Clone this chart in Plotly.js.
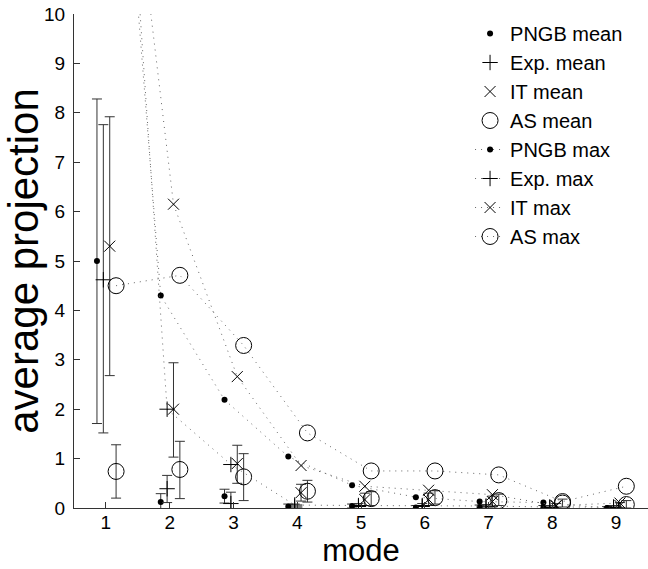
<!DOCTYPE html>
<html>
<head>
<meta charset="utf-8">
<script src="https://cdn.plot.ly/plotly-3.0.1.min.js"></script>
<style>
html,body{margin:0;padding:0;background:#fff;}
#chart{width:648px;height:569px;}
</style>
</head>
<body>
<div id="chart"></div>
<script>
// ---- data ----
const modes = [1, 2, 3, 4, 5, 6, 7, 8, 9];
const tickLabels = ['1','2','3','4','5','6','7','8','9'];

// horizontal offsets of each method around the mode
const offPNGB = -0.14, offExp = -0.04, offIT = 0.06, offAS = 0.16;

// mean values and error-bar bounds
const pngbMean = [5.00, 0.12, 0.24, 0.03, 0.04, 0.01, 0.02, 0.01, 0.00];
const pngbLow  = [1.71, -0.05, 0.10, -0.02, 0.00, -0.03, -0.02, -0.03, -0.03];
const pngbHigh = [8.28, 0.29, 0.38, 0.08, 0.08, 0.05, 0.06, 0.05, 0.03];

const expMean = [4.62, 0.39, 0.09, 0.02, 0.03, 0.03, 0.02, 0.01, 0.01];
const expLow  = [1.52, 0.11, -0.14, -0.04, -0.03, -0.03, -0.03, -0.03, -0.03];
const expHigh = [7.76, 0.66, 0.32, 0.08, 0.09, 0.09, 0.07, 0.05, 0.05];

const itMean = [5.30, 2.00, 0.90, 0.31, 0.17, 0.17, 0.13, 0.04, 0.05];
const itLow  = [2.68, 1.03, 0.50, 0.14, 0.05, 0.05, 0.03, 0.00, 0.00];
const itHigh = [7.92, 2.94, 1.27, 0.48, 0.30, 0.30, 0.24, 0.09, 0.11];

const asMean = [0.74, 0.78, 0.63, 0.34, 0.19, 0.21, 0.15, 0.10, 0.07];
const asLow  = [0.20, 0.19, 0.15, 0.12, 0.05, 0.08, 0.05, 0.02, 0.00];
const asHigh = [1.28, 1.35, 1.10, 0.56, 0.33, 0.35, 0.28, 0.18, 0.15];

// max values (dotted lines)
const pngbMax = [20.6, 4.30, 2.19, 1.04, 0.46, 0.22, 0.13, 0.11, 0.00];
const expMax  = [20.9, 2.00, 0.88, 0.06, 0.05, 0.05, 0.04, 0.02, 0.02];
const itMax   = [17.0, 6.15, 2.66, 0.86, 0.44, 0.36, 0.27, 0.05, 0.10];
const asMax   = [4.50, 4.71, 3.29, 1.52, 0.75, 0.75, 0.67, 0.13, 0.44];

// ---- build traces ----
const shift = (o) => modes.map(m => m + o);
const errUp = (hi, mean) => hi.map((v, i) => v - mean[i]);
const errDn = (lo, mean) => lo.map((v, i) => mean[i] - v);
const errStyle = (hi, lo, mean) => ({
  type: 'data', symmetric: false,
  array: errUp(hi, mean), arrayminus: errDn(lo, mean),
  width: 5, thickness: 1, color: '#333'
});

const markerDot = {symbol: 'circle', size: 6, color: '#000'};
const markerPlus = {symbol: 'cross-thin-open', size: 11, color: '#000', line: {color: '#000', width: 1}};
const markerX = {symbol: 'x-thin-open', size: 11, color: '#000', line: {color: '#000', width: 1}};
const markerO = {symbol: 'circle-open', size: 16, color: '#000', line: {color: '#000', width: 1}};

const dotLine = {color: '#666', width: 1, dash: '1px,5px'};

const traces = [
  {name: 'PNGB mean', x: shift(offPNGB), y: pngbMean, mode: 'markers', marker: markerDot,
   error_y: errStyle(pngbHigh, pngbLow, pngbMean)},
  {name: 'Exp. mean', x: shift(offExp), y: expMean, mode: 'markers', marker: markerPlus,
   error_y: errStyle(expHigh, expLow, expMean)},
  {name: 'IT mean', x: shift(offIT), y: itMean, mode: 'markers', marker: markerX,
   error_y: errStyle(itHigh, itLow, itMean)},
  {name: 'AS mean', x: shift(offAS), y: asMean, mode: 'markers', marker: markerO,
   error_y: errStyle(asHigh, asLow, asMean)},
  {name: 'PNGB max', x: shift(offPNGB), y: pngbMax, mode: 'lines+markers', marker: markerDot, line: dotLine},
  {name: 'Exp. max', x: shift(offExp), y: expMax, mode: 'lines+markers', marker: markerPlus, line: dotLine},
  {name: 'IT max', x: shift(offIT), y: itMax, mode: 'lines+markers', marker: markerX, line: dotLine},
  {name: 'AS max', x: shift(offAS), y: asMax, mode: 'lines+markers', marker: markerO, line: dotLine}
];

const font = 'Liberation Sans, Arial, Helvetica, sans-serif';

const layout = {
  width: 648, height: 569,
  margin: {l: 74, r: 0, t: 14, b: 61, pad: 0},
  paper_bgcolor: '#fff', plot_bgcolor: '#fff',
  font: {family: font, color: '#000', size: 19},
  showlegend: true,
  legend: {
    x: 0.69, y: 1.0, xanchor: 'left', yanchor: 'top',
    bgcolor: 'rgba(0,0,0,0)', borderwidth: 0,
    font: {family: font, size: 20, color: '#000'},
    tracegroupgap: 0
  },
  xaxis: {
    range: [0.5, 9.5], tickvals: modes, ticktext: tickLabels,
    ticks: 'inside', ticklen: 6, tickcolor: '#333', tickwidth: 1,
    showline: true, linecolor: '#333', linewidth: 1, mirror: false,
    showgrid: false, zeroline: false,
    tickfont: {family: font, size: 19, color: '#000'},
    ticklabelstandoff: -3,
    title: {text: 'mode', font: {family: font, size: 31, color: '#000'}, standoff: 3}
  },
  yaxis: {
    range: [0, 10], dtick: 1, tick0: 0,
    ticks: 'inside', ticklen: 6, tickcolor: '#333', tickwidth: 1,
    showline: true, linecolor: '#333', linewidth: 1, mirror: false,
    showgrid: false, zeroline: false,
    tickfont: {family: font, size: 19, color: '#000'},
    ticklabelstandoff: 4,
    title: {text: 'average projection', font: {family: font, size: 42, color: '#000'}, standoff: 1}
  }
};

Plotly.newPlot('chart', traces, layout, {displayModeBar: false, staticPlot: true});
</script>
</body>
</html>
